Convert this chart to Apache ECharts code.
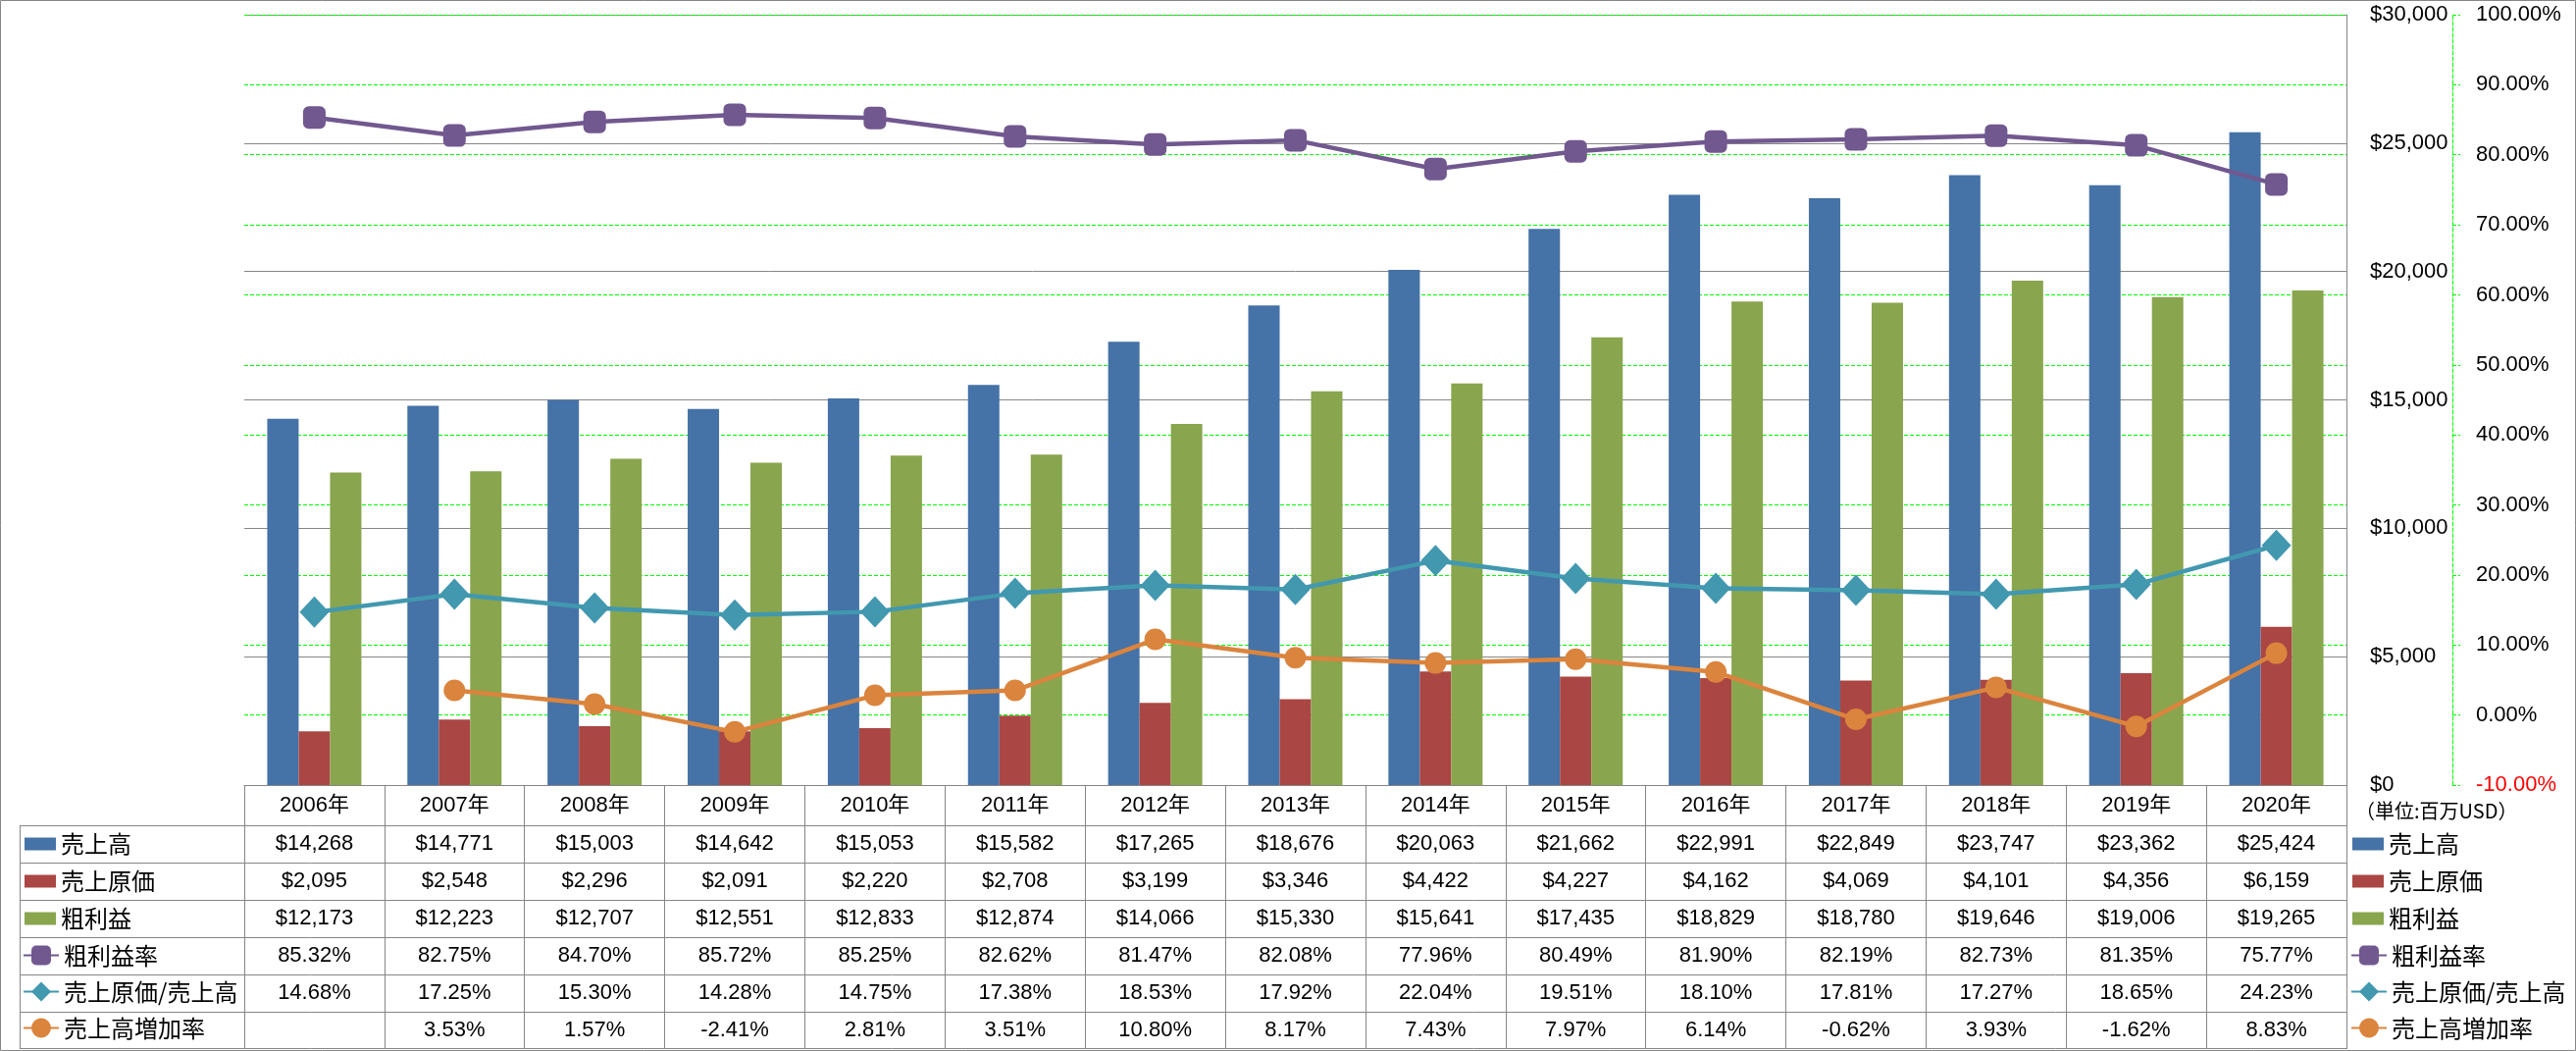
<!DOCTYPE html>
<html><head><meta charset="utf-8">
<script src="https://cdn.jsdelivr.net/npm/echarts@6/dist/echarts.min.js"></script>
<style>html,body{margin:0;padding:0;background:#fff}#c{width:2626px;height:1071px}</style>
</head><body><div id="c"></div>
<script>
// ---- data ----
const years = ['2006年','2007年','2008年','2009年','2010年','2011年','2012年','2013年','2014年','2015年','2016年','2017年','2018年','2019年','2020年'];
const sales = [14268,14771,15003,14642,15053,15582,17265,18676,20063,21662,22991,22849,23747,23362,25424];
const cost = [2095,2548,2296,2091,2220,2708,3199,3346,4422,4227,4162,4069,4101,4356,6159];
const gross = [12173,12223,12707,12551,12833,12874,14066,15330,15641,17435,18829,18780,19646,19006,19265];
const grossMargin = [85.32,82.75,84.70,85.72,85.25,82.62,81.47,82.08,77.96,80.49,81.90,82.19,82.73,81.35,75.77];
const costRatio = [14.68,17.25,15.30,14.28,14.75,17.38,18.53,17.92,22.04,19.51,18.10,17.81,17.27,18.65,24.23];
const growth = [null,3.53,1.57,-2.41,2.81,3.51,10.80,8.17,7.43,7.97,6.14,-0.62,3.93,-1.62,8.83];
const names = ['売上高','売上原価','粗利益','粗利益率','売上原価/売上高','売上高増加率'];
const unitText = '（単位:百万USD）';

// ---- styles / layout ----
const colors = ['#4572A7','#AA4643','#89A54E','#71588F','#4198AF','#DB843D'];
const GRAY = '#868686', GREEN = '#00FF00';
const DASH = [4,2];
const NUM_FONT = "'Liberation Sans','Noto Sans CJK JP',sans-serif";
const JP_FONT = "'Noto Sans CJK JP',sans-serif";
const W = 2626, H = 1071;
const PLOT_L = 249, PLOT_R = 2392, PLOT_T = 15, TABLE_T = 800;
const HEAD_H = 41, ROW_H = 38, TABLE_L = 20;

const fmtD = v => '$' + Number(v).toLocaleString('en-US');
const fmtP = v => (v === null || v === undefined) ? '' : v.toFixed(2) + '%';

const rows = [sales.map(fmtD), cost.map(fmtD), gross.map(fmtD), grossMargin.map(fmtP), costRatio.map(fmtP), growth.map(fmtP)];

const graphics = [];
graphics.push({type:'rect', shape:{x:0.5,y:0.5,width:W-1,height:H-1}, style:{fill:'none',stroke:GRAY,lineWidth:1}, silent:true});
for (let i = 0; i < rows.length; i++) {
  const y = TABLE_T + HEAD_H + ROW_H * i + 0.5;
  graphics.push({type:'line', shape:{x1:TABLE_L, y1:y, x2:PLOT_R, y2:y}, style:{stroke:GRAY,lineWidth:1}, silent:true});
}
const tableB = TABLE_T + HEAD_H + ROW_H * rows.length;
graphics.push({type:'line', shape:{x1:TABLE_L, y1:tableB-0.5, x2:PLOT_R, y2:tableB-0.5}, style:{stroke:GRAY,lineWidth:1}, silent:true});
graphics.push({type:'line', shape:{x1:TABLE_L+0.5, y1:TABLE_T+HEAD_H, x2:TABLE_L+0.5, y2:tableB}, style:{stroke:GRAY,lineWidth:1}, silent:true});
graphics.push({type:'text', left:2401, top:816, style:{text:unitText, font:"20px 'Noto Sans CJK JP'", fill:'#000'}, silent:true});

const legendBase = {orient:'vertical', padding:0, textStyle:{fontSize:24, lineHeight:24, color:'#000', fontFamily:JP_FONT}};
const barLegend = (left) => Object.assign({}, legendBase, {data:names.slice(0,3), left:left, top:TABLE_T+HEAD_H+ROW_H/2-12, itemWidth:32, itemHeight:13, itemGap:14, icon:'rect'});
const lineLegend = (left) => Object.assign({}, legendBase, {data:names.slice(3), left:left, top:TABLE_T+HEAD_H+ROW_H*3+ROW_H/2-12.5, itemWidth:36, itemHeight:25, itemGap:13});

const chart = echarts.init(document.getElementById('c'), null, {renderer:'canvas'});
chart.setOption({
  animation:false,
  color: colors,
  grid:{left:PLOT_L, right:W-PLOT_R, top:PLOT_T, bottom:H-TABLE_T, containLabel:false},
  legend:[barLegend(25), lineLegend(23), barLegend(2398), lineLegend(2396)],
  xAxis:{
    type:'category', data:years, position:'bottom',
    axisLine:{show:true, onZero:false, lineStyle:{color:GRAY, width:1}},
    axisTick:{show:true, length:tableB-TABLE_T, alignWithLabel:false, lineStyle:{color:GRAY, width:1}},
    axisLabel:{
      interval:0, margin:0, color:'#000', hideOverlap:false,
      formatter:(v, i) => ['{y|' + v + '}'].concat(rows.map(r => '{v|' + (r[i] || ' ') + '}')).join('\n'),
      rich:{
        y:{fontSize:22, lineHeight:HEAD_H, fontFamily:NUM_FONT, color:'#000'},
        v:{fontSize:22, lineHeight:ROW_H, fontFamily:NUM_FONT, color:'#000'}
      }
    }
  },
  yAxis:[
    {type:'value', position:'right', min:0, max:30000, interval:5000,
     axisLine:{show:true, lineStyle:{color:GRAY, width:1}},
     axisTick:{show:false},
     splitLine:{show:true, lineStyle:{color:GRAY, width:1}},
     axisLabel:{margin:24, formatter:fmtD, color:'#000', fontSize:22, fontFamily:NUM_FONT}},
    {type:'value', position:'right', offset:108, min:-10, max:100, interval:10,
     axisLine:{show:true, lineStyle:{color:GREEN, width:1, type:DASH}},
     axisTick:{show:true, length:8, lineStyle:{color:GREEN, width:1, type:DASH}},
     splitLine:{show:true, lineStyle:{color:GREEN, width:1, type:DASH}},
     axisLabel:{margin:24, formatter:v => v.toFixed(2) + '%', color:(v) => Number(v) < 0 ? '#FF0000' : '#000', fontSize:22, fontFamily:NUM_FONT}}
  ],
  series:[
    {name:names[0], type:'bar', yAxisIndex:0, data:sales, barWidth:32, barGap:'0%', itemStyle:{color:colors[0]}},
    {name:names[1], type:'bar', yAxisIndex:0, data:cost, barWidth:32, barGap:'0%', itemStyle:{color:colors[1]}},
    {name:names[2], type:'bar', yAxisIndex:0, data:gross, barWidth:32, barGap:'0%', itemStyle:{color:colors[2]}},
    {name:names[3], type:'line', yAxisIndex:1, data:grossMargin, symbol:'roundRect', symbolSize:23, showAllSymbol:true,
     lineStyle:{width:4.5, color:colors[3]}, itemStyle:{color:colors[3]}, z:5},
    {name:names[4], type:'line', yAxisIndex:1, data:costRatio, symbol:'diamond', symbolSize:[30,32], showAllSymbol:true,
     lineStyle:{width:4.5, color:colors[4]}, itemStyle:{color:colors[4]}, z:5},
    {name:names[5], type:'line', yAxisIndex:1, data:growth, symbol:'circle', symbolSize:22, showAllSymbol:true,
     lineStyle:{width:4.5, color:colors[5]}, itemStyle:{color:colors[5]}, z:5}
  ],
  graphic:graphics
});
</script>
</body></html>
